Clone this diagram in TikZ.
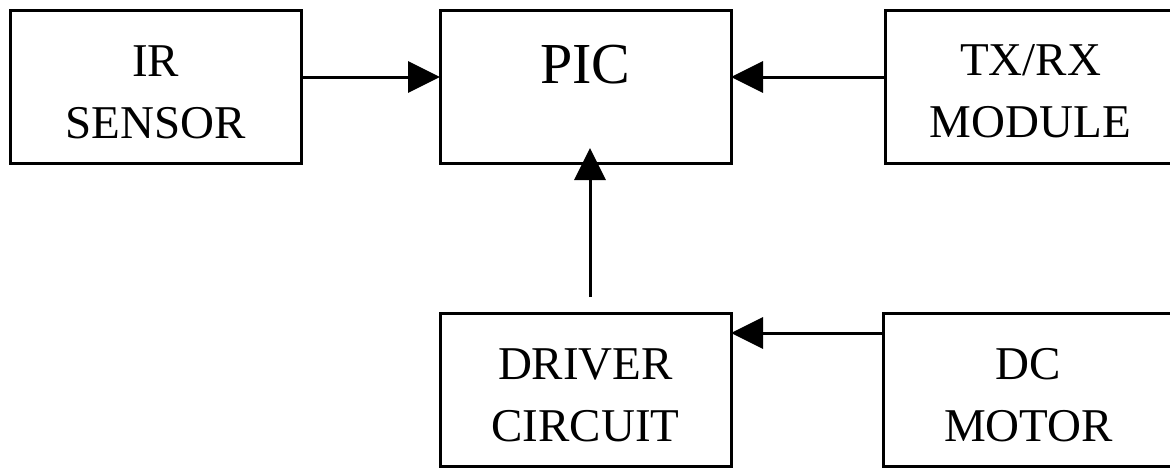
\documentclass[tikz,border=0pt]{standalone}
\usepackage{fontspec}
\setmainfont{Liberation Serif}
\usepackage{tikz}
\usetikzlibrary{calc,arrows.meta}

\begin{document}
\begin{tikzpicture}[x=1pt,y=-1pt,
        blk/.style={draw, line width=3pt, minimum width=291pt, minimum height=153pt, inner sep=0pt, outer sep=0pt},
        lbl/.style={align=center, inner sep=0pt, font=\fontsize{47}{62}\selectfont},
        arr/.style={line width=3pt, -{Triangle[length=32pt,width=31pt]}}]
        \useasboundingbox (0,0) rectangle (1170,467);
        \clip (0,0) rectangle (1170,467);

        % Blocks
        \node[blk] (ir) at (155.5,86.5) {};
        \node[blk] (pic) at (585.5,86.5) {};
        \node[blk] (tx) at (1030.5,86.5) {};
        \node[blk] (drv) at (585.5,389.5) {};
        \node[blk] (dc) at (1028.5,389.5) {};

        % Labels
        \node[lbl] (irtxt) at ([yshift=-6pt]ir.center) {IR\\SENSOR};
        \node[lbl, font=\fontsize{58}{70}\selectfont] (pictxt) at ([yshift=21.5pt]pic.center) {PIC};
        \node[lbl] (txtxt) at ([yshift=-5pt]tx.center) {TX/RX\\MODULE};
        \node[lbl] (drvtxt) at ([yshift=-6pt]drv.center) {DRIVER\\CIRCUIT};
        \node[lbl] (dctxt) at ([yshift=-6pt]dc.center) {DC\\MOTOR};

        % Connections
        \draw[arr] ([yshift=9.5pt]ir.east) -- ([yshift=9.5pt]pic.west);
        \draw[arr] ([yshift=9.5pt]tx.west) -- ([yshift=9.5pt]pic.east);
        \draw[arr, shorten <=16pt, shorten >=-15pt] ([xshift=4.5pt]drv.north) -- ([xshift=4.5pt]pic.south);
        \draw[arr] ([yshift=56.5pt]dc.west) -- ([yshift=56.5pt]drv.east);
    \end{tikzpicture}
\end{document}
